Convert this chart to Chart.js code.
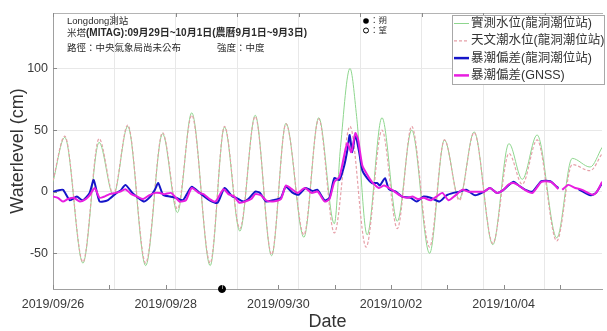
<!DOCTYPE html>
<html>
<head>
<meta charset="utf-8">
<script src="https://cdn.jsdelivr.net/npm/chart.js@4.4.1/dist/chart.umd.min.js"></script>
<style>
  html, body { margin: 0; padding: 0; background: #fff; }
  #wrap { width: 607px; height: 331px; position: relative; }
</style>
</head>
<body>
<div id="wrap"><canvas id="tideChart"></canvas></div>
<script>
// hours counted from the left edge of the plot
const obsHours = [0, 4.6, 11.7, 18.0, 23.6, 29.2, 36.2, 42.8, 48.6, 54.2, 61.4, 67.0, 73.0, 79.0, 85.4, 91.0, 98.0, 103.8, 109.9, 112.3, 116.0, 118.6, 122.7, 128.5, 134.5, 140.1, 147.1, 152.9, 158.7, 164.5, 171.8, 178.1, 183.3, 189.1, 196.8, 202.8, 209.8, 214.5];
const obsLevel = [8, 44, -58, 40, -3, 53, -60, 47, -17, 64, -60, 52.5, -32, 62, -52, 55.5, -37, 60, -26, 36, 100, 61, -35, 60, -24, 50, -50, 42, -6, 48.5, -43, 39, 10, 46, -37.5, 27, 20, 36];

const tideHours = [0, 4.6, 11.7, 18.0, 23.6, 29.2, 36.2, 42.8, 48.6, 54.2, 61.4, 67.0, 73.0, 79.0, 85.4, 91.0, 98.0, 103.8, 109.9, 116.0, 122.3, 128.5, 134.5, 140.1, 147.1, 152.9, 158.7, 164.5, 171.8, 178.1, 183.3, 189.1, 196.8, 202.8, 209.8, 214.5];
const tideLevel = [9, 45, -57, 43, -2, 54, -58, 48, -14, 62, -58, 53, -30, 61, -51, 55, -35, 59, -33.5, 53, -45, 50, -30, 53, -45, 42, -7, 48, -42, 31, 6, 42, -40, 22, 17, 31];

const surgeHours = [0, 1.9, 3.9, 6.6, 9.3, 11.6, 14.3, 15.9, 18.2, 21.3, 24.8, 26.4, 28.3, 31.0, 33.3, 35.6, 38.0, 39.9, 41.1, 43.0, 45.7, 48.0, 50.7, 52.3, 54.2, 57.3, 61.2, 64.3, 67.0, 70.1, 71.6, 74.3, 76.3, 79.0, 80.9, 83.2, 85.9, 89.0, 90.9, 93.7, 96.0, 98.7, 101.4, 103.3, 106.1, 108.0, 109.9, 111.9, 113.8, 115.0, 115.9, 116.9, 118.1, 119.6, 120.8, 122.7, 124.6, 126.6, 127.7, 129.7, 131.2, 133.9, 136.3, 139.7, 142.1, 144.8, 147.5, 151.0, 153.7, 156.4, 158.7, 161.4, 164.9, 168.4, 170.7, 173.4, 175.7, 178.1, 180.0, 181.9, 184.6, 187.3, 190.8, 194.3, 196.2, 197.4, 201.0, 205.2, 207.9, 210.2, 212.1, 214.5];
const surgeLevel = [0, 1, 1.5, -7, -4, -7, -1, 9.5, -8, -7, -1, 1, 5.5, -1, -5, -8, -4, 2, 7, -2.5, -4, -5, -7, -2, 4, -1, -7, -9, 3, -4, -5, -8, -6, 0, -1, -8, -7, -5, 4, -1, -2.5, 3, 0.5, 1.5, -7, -5, 11, 9.5, 21.5, 34, 46, 32, 46, 32, 17.5, 11, 7, 7, 5, 11, 2, 0, -4, -5, -8, -4, -5, -8, -3, -1, 0, 1.5, -3, 0, 3, -1, 1, 5.5, 8, 5, 1.5, 0, 8.5, 8.5, 5, 3, null, 2, -1, -3, -1, 7];

const gnssHours = [0, 1.9, 3.9, 5.8, 8.1, 10.5, 12.8, 14.3, 16.3, 18.2, 20.1, 22.1, 24.4, 26.3, 28.3, 30.6, 32.9, 35.2, 37.5, 39.9, 41.8, 43.4, 46.1, 47.6, 49.5, 51.9, 54.2, 56.9, 58.8, 61.2, 63.5, 66.6, 68.5, 70.8, 72.8, 75.1, 77.4, 79.0, 81.3, 83.2, 85.9, 89.0, 91.0, 93.3, 95.6, 98.3, 101.0, 103.4, 106.1, 108.0, 109.9, 111.9, 113.8, 115.0, 116.5, 118.1, 119.2, 120.8, 122.7, 124.6, 127.3, 129.3, 132.4, 135.5, 138.2, 140.5, 142.5, 144.8, 147.5, 149.8, 152.1, 154.5, 157.2, 159.9, 162.2, 164.9, 168.4, 170.7, 173.4, 175.7, 178.1, 180.0, 181.9, 184.6, 187.3, 190.8, 194.3, 196.2, 197.4, 198.2, 198.9, 201.3, 204.0, 206.7, 209.0, 211.0, 212.5, 214.5];
const gnssLevel = [-4, -5, -8, -6, -5, -8, -6, -3, 3, -5, -4, -2, -1, 0, 2, -2, -4, -6, -3, -1, -1, -2, -1, -4, -8, -7, 3, -1, -2, -6, -8, 2, -2, -4, -9, -8, -6, -2, -3, -7, -8, -6, 5, 2, -1, 3, -1, 0, -8, -6, 8, 12, 30, 39.5, 32, 47.5, 42, 21.5, 14, 8, 3, 5, 1.5, -3, -5, -4, -6, -5, -7, -4, -1, -7, -3, 1.5, 0, 0, 0, 3, -1, 1, 6, 7, 5, 1, -1, 8, 8, 5, 2, null, 1.5, 5.5, 3, 1.5, -1, -2.5, 0, 8];

// hours on the date axis (from 2019/09/26 00:00)
const newMoonHours = [72];
const yTicks = [-50, 0, 50, 100];
const gridHours = [0, 24, 48, 72, 96, 120, 144, 168, 192];
const dateTickHours = [0, 24, 48, 72, 96, 120, 144, 168, 192, 216];

const seriesNames = ["實測水位(龍洞潮位站)", "天文潮水位(龍洞潮位站)", "暴潮偏差(龍洞潮位站)", "暴潮偏差(GNSS)"];
const titleLines = ["Longdong測站", "米塔", "(MITAG):09月29日~10月1日(農曆9月1日~9月3日)", "路徑：中央氣象局尚未公布", "強度：中度"];

const FONT = '"Liberation Sans", "Noto Sans CJK TC", sans-serif';
const colors = { obs: '#8ed68e', tide: '#e6a0a8', surge: '#1515c8', gnss: '#e81ee0' };

function toPoints(xs, ys) {
  return xs.map((x, i) => ({ x: x, y: ys[i] }));
}

function dateLabel(hours) {
  const d = new Date(2019, 8, 26 + Math.round(hours / 24));
  return `${d.getFullYear()}/${String(d.getMonth() + 1).padStart(2, '0')}/${String(d.getDate()).padStart(2, '0')}`;
}

const overlay = {
  id: 'overlay',
  afterDraw(chart) {
    const { ctx, chartArea: a, scales } = chart;
    ctx.save();

    // inward tick marks
    ctx.strokeStyle = '#8a8a8a';
    ctx.lineWidth = 1;
    ctx.beginPath();
    dateTickHours.forEach(h => {
      const x = Math.round(scales.xd.getPixelForValue(h)) + 0.5;
      ctx.moveTo(x, a.bottom); ctx.lineTo(x, a.bottom - 4);
    });
    gridHours.forEach(h => {
      const x = Math.round(scales.x.getPixelForValue(h)) + 0.5;
      ctx.moveTo(x, a.top); ctx.lineTo(x, a.top + 4);
    });
    yTicks.forEach(v => {
      const y = Math.round(scales.y.getPixelForValue(v)) + 0.5;
      ctx.moveTo(a.left, y); ctx.lineTo(a.left + 4, y);
    });
    ctx.stroke();

    // station / typhoon text
    ctx.fillStyle = '#2a2a2a';
    ctx.textBaseline = 'middle';
    ctx.textAlign = 'left';
    ctx.font = '9.5px ' + FONT;
    ctx.fillText(titleLines[0], 67, 21);
    ctx.fillText(titleLines[1], 67, 33);
    const w = ctx.measureText(titleLines[1]).width;
    ctx.font = 'bold 10px ' + FONT;
    ctx.fillText(titleLines[2], 67 + w, 33);
    ctx.font = '9.5px ' + FONT;
    ctx.fillText(titleLines[3], 67, 48);
    ctx.fillText(titleLines[4], 217, 48);

    // moon phase key
    ctx.fillStyle = '#000';
    ctx.beginPath(); ctx.arc(366, 21, 2.8, 0, Math.PI * 2); ctx.fill();
    ctx.strokeStyle = '#000';
    ctx.beginPath(); ctx.arc(366, 30.5, 2.5, 0, Math.PI * 2); ctx.stroke();
    ctx.fillStyle = '#333';
    ctx.font = '8.5px ' + FONT;
    ctx.fillText('：朔', 370, 21);
    ctx.fillText('：望', 370, 30.5);

    // legend
    const bx = 452, by = 15, bw = 152, bh = 69;
    ctx.fillStyle = '#fff';
    ctx.fillRect(bx, by, bw, bh);
    ctx.strokeStyle = '#a8a8a8';
    ctx.strokeRect(bx + 0.5, by + 0.5, bw, bh);
    const rows = [
      { c: colors.obs, w: 1, dash: [] },
      { c: colors.tide, w: 1.2, dash: [3, 2] },
      { c: colors.surge, w: 2.5, dash: [] },
      { c: colors.gnss, w: 2.5, dash: [] }
    ];
    ctx.font = '12.5px ' + FONT;
    rows.forEach((r, i) => {
      const y = by + 8.5 + i * 17.3;
      ctx.strokeStyle = r.c;
      ctx.lineWidth = r.w;
      ctx.setLineDash(r.dash);
      ctx.beginPath(); ctx.moveTo(454, y); ctx.lineTo(469, y); ctx.stroke();
      ctx.setLineDash([]);
      ctx.fillStyle = '#333';
      ctx.fillText(seriesNames[i], 471, y);
    });

    ctx.restore();
  }
};

new Chart(document.getElementById('tideChart'), {
  type: 'line',
  data: {
    datasets: [
      {
        label: seriesNames[0],
        data: toPoints(obsHours, obsLevel),
        borderColor: colors.obs,
        borderWidth: 1,
        cubicInterpolationMode: 'monotone',
        pointRadius: 0,
        xAxisID: 'x',
        order: 4
      },
      {
        label: seriesNames[1],
        data: toPoints(tideHours, tideLevel),
        borderColor: colors.tide,
        borderWidth: 1.2,
        borderDash: [3, 2],
        cubicInterpolationMode: 'monotone',
        pointRadius: 0,
        xAxisID: 'x',
        order: 3
      },
      {
        label: seriesNames[2],
        data: toPoints(surgeHours, surgeLevel),
        borderColor: colors.surge,
        borderWidth: 2,
        tension: 0.2,
        pointRadius: 0,
        xAxisID: 'x',
        order: 2
      },
      {
        label: seriesNames[3],
        data: toPoints(gnssHours, gnssLevel),
        borderColor: colors.gnss,
        borderWidth: 2,
        tension: 0.2,
        pointRadius: 0,
        xAxisID: 'x',
        order: 1
      },
      {
        label: '朔',
        data: newMoonHours.map(h => ({ x: h, y: -79 })),
        showLine: false,
        pointRadius: 3.5,
        pointBackgroundColor: '#000',
        pointBorderColor: '#000',
        xAxisID: 'xd',
        clip: false,
        order: 0
      }
    ]
  },
  options: {
    responsive: true,
    maintainAspectRatio: false,
    animation: false,
    layout: { padding: 0 },
    plugins: {
      legend: { display: false },
      tooltip: { enabled: false }
    },
    scales: {
      x: {
        type: 'linear',
        position: 'top',
        min: 0,
        max: 214.45,
        grid: { color: '#e8e8e8', drawTicks: false },
        border: { display: true, color: '#b4b4b4' },
        ticks: { display: false },
        afterBuildTicks: (s) => { s.ticks = gridHours.map(v => ({ value: v })); },
        afterFit: (s) => { s.height = 13; }
      },
      xd: {
        type: 'linear',
        position: 'bottom',
        min: 0,
        max: 233.9,
        grid: { display: false },
        border: { display: true, color: '#a0a0a0' },
        ticks: {
          autoSkip: false,
          maxRotation: 0,
          padding: 0,
          color: '#3a3a3a',
          font: { family: FONT, size: 12.5 },
          callback: (v) => (Math.round(v / 24) % 2 === 0 ? dateLabel(v) : '')
        },
        afterBuildTicks: (s) => { s.ticks = dateTickHours.map(v => ({ value: v })); },
        title: {
          display: true,
          text: 'Date',
          color: '#333',
          padding: 0,
          font: { family: FONT, size: 18, lineHeight: 1 }
        },
        afterFit: (s) => { s.height = 42; }
      },
      y: {
        type: 'linear',
        min: -79,
        max: 145,
        grid: { color: '#e8e8e8', drawTicks: false },
        border: { display: true, color: '#a0a0a0' },
        ticks: {
          padding: 5,
          color: '#3a3a3a',
          font: { family: FONT, size: 12.5 }
        },
        afterBuildTicks: (s) => { s.ticks = yTicks.map(v => ({ value: v })); },
        title: {
          display: true,
          text: 'Waterlevel (cm)',
          color: '#333',
          padding: { top: 9, bottom: 9 },
          font: { family: FONT, size: 18, lineHeight: 1 }
        },
        afterFit: (s) => { s.width = 53; }
      }
    }
  },
  plugins: [overlay]
});
</script>
</body>
</html>
